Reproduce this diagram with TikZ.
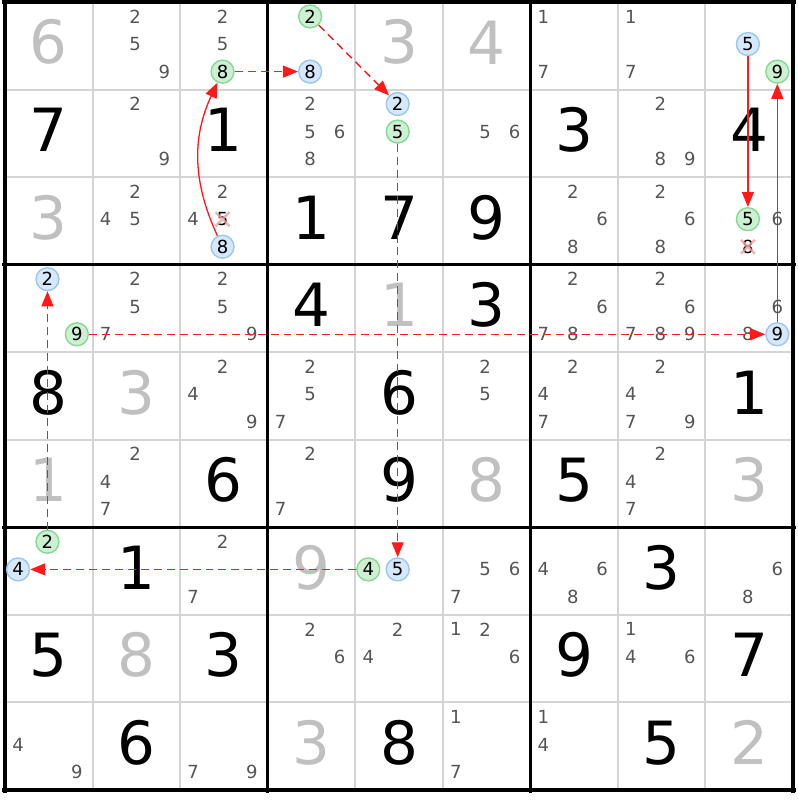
\documentclass[tikz,border=0pt]{standalone}
\usepackage{fontspec}
\setmainfont{DejaVu Sans}
\usetikzlibrary{
  arrows.meta,
  calc,
}
\definecolor{cG}{HTML}{C0C0C0}
\definecolor{cK}{HTML}{555555}
\definecolor{cL}{HTML}{D4D4D4}
\definecolor{cA}{HTML}{CDEFD2}
\definecolor{cAd}{HTML}{86D993}
\definecolor{cB}{HTML}{D6E8FB}
\definecolor{cBd}{HTML}{9AC6F2}
\definecolor{cR}{HTML}{FF1A1A}
\definecolor{cX}{HTML}{F4A0A0}

\tikzset{
  big/.style={inner sep=0pt,font=\fontsize{34}{34}\selectfont},
  given/.style={big,text=cG},
  solved/.style={big,text=black},
  cand/.style={circle,inner sep=0pt,minimum size=0.46cm,text=cK,font=\fontsize{10.3}{11}\selectfont},
  candon/.style={cand,draw=cAd,fill=cA,text=black,line width=0.8pt},
  candoff/.style={cand,draw=cBd,fill=cB,text=black,line width=0.8pt},
  candx/.style={cand,text=black},
  strong/.style={draw=cR,line width=0.75pt,-{Triangle[length=0.3cm,width=0.24cm]}},
  weak/.style={strong,dash pattern=on 0.16cm off 0.1cm},
}

\begin{document}
\begin{tikzpicture}[x=1.756cm,y=-1.756cm]
  \useasboundingbox (-0.057,-0.023) rectangle (9.057,9.114);

  \foreach \i in {1,2,4,5,7,8}{
      \draw[cL,line width=0.04cm] (\i,0) -- (\i,9);
      \draw[cL,line width=0.04cm] (0,\i) -- (9,\i);
    }
  \foreach \i in {0,3,6,9}{
      \draw[black,line width=0.066cm] (\i,-0.033) -- (\i,9.033);
      \draw[black,line width=0.066cm] (-0.033,\i) -- (9.033,\i);
    }

  \foreach \r/\c/\v in {0/0/6,0/4/3,0/5/4,2/0/3,3/4/1,4/1/3,5/0/1,5/5/8,5/8/3,6/3/9,7/1/8,8/3/3,8/8/2}{
      \node[given] (g\r\c) at (\c+0.5,\r+0.46) {\v};
    }
  \foreach \r/\c/\v in {1/0/7,1/2/1,1/6/3,1/8/4,2/3/1,2/4/7,2/5/9,3/3/4,3/5/3,4/0/8,4/4/6,4/8/1,
      5/2/6,5/4/9,5/6/5,6/1/1,6/7/3,7/0/5,7/2/3,7/6/9,7/8/7,8/1/6,8/4/8,8/7/5}{
      \node[solved] (s\r\c) at (\c+0.5,\r+0.46) {\v};
    }

  \foreach \r/\c/\ds in {0/1/{2,5,9},0/2/{2,5},0/6/{1,7},0/7/{1,7},1/1/{2,9},1/3/{2,5,6,8},1/5/{5,6},
      1/7/{2,8,9},2/1/{2,4,5},2/2/{2,4},2/6/{2,6,8},2/7/{2,6,8},2/8/{6},3/1/{2,5,7},3/2/{2,5,9},
      3/6/{2,6,7,8},3/7/{2,6,7,8,9},3/8/{6,8},4/2/{2,4,9},4/3/{2,5,7},4/5/{2,5},4/6/{2,4,7},
      4/7/{2,4,7,9},5/1/{2,4,7},5/3/{2,7},5/7/{2,4,7},6/2/{2,7},6/5/{5,6,7},6/6/{4,6,8},6/8/{6,8},
      7/3/{2,6},7/4/{2,4},7/5/{1,2,6},7/7/{1,4,6},8/0/{4,9},8/2/{7,9},8/5/{1,7},8/6/{1,4}}{
      \foreach \d in \ds{
          \pgfmathsetmacro\dx{mod(\d-1,3)*0.336-0.351}
          \pgfmathsetmacro\dy{int((\d-1)/3)*0.315-0.335}
          \node[cand] (n\r\c\d) at (\c+0.5+\dx,\r+0.5+\dy) {\d};
        }
    }

  \foreach \r/\c/\d/\s in {0/2/8/candon,0/3/2/candon,1/4/5/candon,6/4/4/candon,6/0/2/candon,3/0/9/candon,
      0/8/9/candon,2/8/5/candon,2/2/8/candoff,0/3/8/candoff,1/4/2/candoff,6/4/5/candoff,6/0/4/candoff,
      3/0/2/candoff,3/8/9/candoff,0/8/5/candoff,2/2/5/candx,2/8/8/candx}{
      \pgfmathsetmacro\dx{mod(\d-1,3)*0.336-0.351}
      \pgfmathsetmacro\dy{int((\d-1)/3)*0.315-0.335}
      \node[\s] (n\r\c\d) at (\c+0.5+\dx,\r+0.5+\dy) {\d};
    }
  \foreach \xy in {225,288}{
      \draw[cX,line width=0.05cm,opacity=0.8] ($(n\xy)+(-0.14cm,-0.14cm)$) -- ($(n\xy)+(0.14cm,0.14cm)$)
        ($(n\xy)+(-0.14cm,0.14cm)$) -- ($(n\xy)+(0.14cm,-0.14cm)$);
    }

  \draw[strong] (n228) to[bend left=25] (n028);
  \draw[weak] (n028) -- (n038);
  \draw[weak] (n032) -- (n142);
  \draw[weak] (n145) -- (n645);
  \draw[weak] (n644) -- (n604);
  \draw[weak] (n602) -- (n302);
  \draw[weak] (n309) -- (n389);
  \draw[strong] (n389) -- (n089);
  \draw[strong] (n085) -- (n285);
\end{tikzpicture}
\end{document}
